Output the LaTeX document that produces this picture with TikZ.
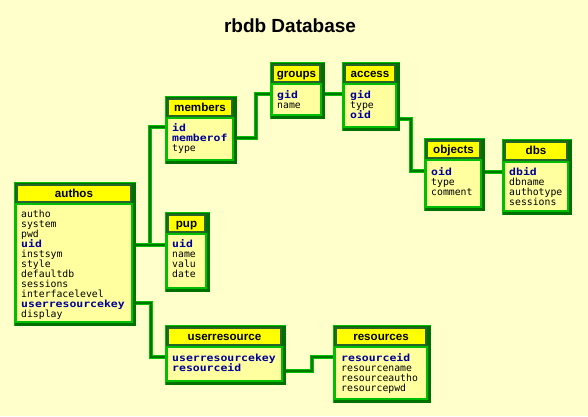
\documentclass[tikz,border=0pt]{standalone}
\usepackage{fontspec}
\setmainfont{Liberation Sans}
\newfontfamily\rowfont{DejaVu Sans Mono}
\newfontfamily\keyfont{DejaVu Sans Mono}[FakeStretch=1.17]
\usetikzlibrary{fit}
\definecolor{bgcol}{RGB}{255,255,204}
\definecolor{framecol}{RGB}{0,112,0}
\definecolor{hdrframe}{RGB}{40,100,40}
\definecolor{brightcol}{RGB}{0,190,0}
\definecolor{hdrcol}{RGB}{255,255,0}
\definecolor{bodycol}{RGB}{255,255,160}
\definecolor{conncol}{RGB}{0,120,0}
\definecolor{keycol}{RGB}{0,0,153}
\tikzset{
  rowtxt/.style={anchor=base west, inner sep=0pt, font=\rowfont\fontsize{9.8}{10}\selectfont, text=black},
  keytxt/.style={anchor=base west, inner sep=0pt, font=\keyfont\bfseries\fontsize{9.8}{10}\selectfont, text=keycol},
  hdrtxt/.style={anchor=base, inner sep=0pt, font=\bfseries\fontsize{11.6}{12}\selectfont},
  conn/.style={draw=brightcol, double=conncol, double distance=2pt, line width=0.8pt},
  tblbox/.style={inner sep=0pt, draw=none}
}
% #1 name, #2 l, #3 t, #4 r, #5 b, #6 header bottom, #7 title
\newcommand\dbtable[7]{%
  \fill[framecol] (#2,#3) rectangle (#4,#5);
  \fill[hdrframe] ({#2+2},{#3+2}) rectangle ({#4-4},{#6-1});
  \fill[hdrcol] ({#2+4},{#3+4}) rectangle ({#4-6},{#6-3});
  \filldraw[fill=bodycol, draw=brightcol, line width=1.2pt] ({#2+2},#6) rectangle ({#4-4},{#5-4});
  \draw[brightcol, line width=0.8pt] (#2,#5) -- (#2,#3) -- (#4,#3);
  \node[tblbox, fit={(#2,#3) (#4,#5)}] (#1) {};
  \node[hdrtxt] (#1-title) at ({(#2+#4-2)/2},{(#3+#6)/2+4}) {#7};
}
\newcommand\rown[4]{\node[rowtxt] (#1) at (#2,{#3+3}) {#4};}
\newcommand\rowk[4]{\node[keytxt] (#1) at (#2,{#3+3}) {#4};}
\begin{document}
\begin{tikzpicture}[x=1pt,y=-1pt]
\useasboundingbox (0,0) rectangle (588,416);
\fill[bgcol] (0,0) rectangle (588,416);
\node[anchor=base, inner sep=0pt, font=\bfseries\fontsize{19}{20}\selectfont] (title) at (290,32) {rbdb Database};

% tables
\dbtable{authos}{14}{182}{136}{326}{204}{authos}
\dbtable{members}{165}{96}{237}{164}{118}{members}
\dbtable{groups}{270}{62}{325}{119}{84}{groups}
\dbtable{access}{342}{62}{400}{131}{84}{access}
\dbtable{objects}{424}{138}{485}{211}{160}{objects}
\dbtable{dbs}{502}{139}{572}{215}{162}{dbs}
\dbtable{pup}{165}{212}{210}{292}{234}{pup}
\dbtable{userresource}{165}{325}{286}{385}{347}{userresource}
\dbtable{resources}{333}{325}{431}{403}{347}{resources}

% connectors
\draw[conn] (members.west |- 0,127) -- (150,127) -- (150,245);
\draw[conn] (authos.east |- 0,245) -- (pup.west |- 0,245);
\draw[conn] (authos.east |- 0,303) -- (151,303) |- (userresource.west |- 0,357);
\draw[conn] (members.east |- 0,138) -- (256,138) |- (groups.west |- 0,94);
\draw[conn] (groups.east |- 0,94) -- (access.west |- 0,94);
\draw[conn] (access.east |- 0,119) -- (411,119) |- (objects.west |- 0,171);
\draw[conn] (objects.east |- 0,172) -- (dbs.west |- 0,172);
\draw[conn] (userresource.east |- 0,371) -- (312,371) |- (resources.west |- 0,357);

% rows
\rown{a1}{21}{214}{autho}
\rown{a2}{21}{224}{system}
\rown{a3}{21}{234}{pwd}
\rowk{a4}{21}{244}{uid}
\rown{a5}{21}{254}{instsym}
\rown{a6}{21}{264}{style}
\rown{a7}{21}{274}{defaultdb}
\rown{a8}{21}{284}{sessions}
\rown{a9}{21}{294}{interfacelevel}
\rowk{a10}{21}{304}{userresourcekey}
\rown{a11}{21}{314}{display}

\rowk{m1}{172}{128}{id}
\rowk{m2}{172}{138}{memberof}
\rown{m3}{172}{148}{type}

\rowk{g1}{277}{95}{gid}
\rown{g2}{277}{105}{name}

\rowk{c1}{350}{95}{gid}
\rown{c2}{350}{105}{type}
\rowk{c3}{350}{115}{oid}

\rowk{o1}{431}{172}{oid}
\rown{o2}{431}{182}{type}
\rown{o3}{431}{192}{comment}

\rowk{d1}{509}{172}{dbid}
\rown{d2}{509}{182}{dbname}
\rown{d3}{509}{192}{authotype}
\rown{d4}{509}{202}{sessions}

\rowk{p1}{172}{244}{uid}
\rown{p2}{172}{254}{name}
\rown{p3}{172}{264}{valu}
\rown{p4}{172}{274}{date}

\rowk{u1}{172}{358}{userresourcekey}
\rowk{u2}{172}{368}{resourceid}

\rowk{r1}{341}{358}{resourceid}
\rown{r2}{341}{368}{resourcename}
\rown{r3}{341}{378}{resourceautho}
\rown{r4}{341}{388}{resourcepwd}
\end{tikzpicture}
\end{document}
